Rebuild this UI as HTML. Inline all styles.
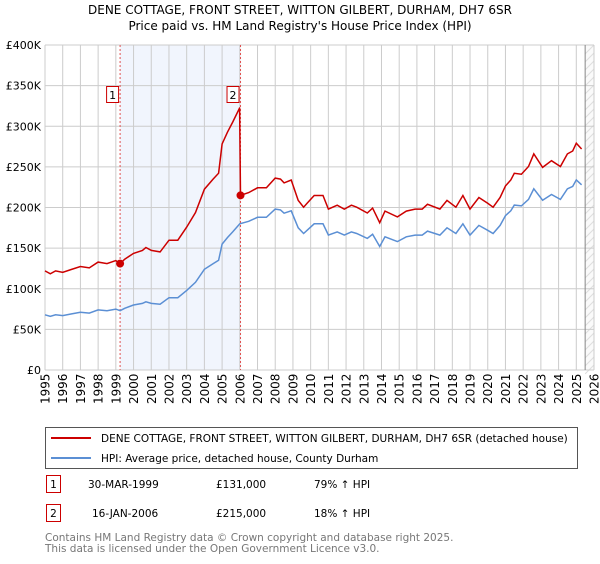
<!DOCTYPE html>
<html><head><meta charset="utf-8">
<style>
body{margin:0;background:#fff;width:600px;height:560px;overflow:hidden;font-family:"DejaVu Sans","Liberation Sans",sans-serif;}
svg text{font-family:"DejaVu Sans","Liberation Sans",sans-serif;}
</style></head><body>
<svg id="chart" width="600" height="560">
<text x="300" y="14" text-anchor="middle" font-size="12" fill="#000">DENE COTTAGE, FRONT STREET, WITTON GILBERT, DURHAM, DH7 6SR</text>
<text x="300" y="30" text-anchor="middle" font-size="12" fill="#000">Price paid vs. HM Land Registry's House Price Index (HPI)</text>
<g id="plot"></g>
<rect x="45.5" y="427.5" width="532" height="41" fill="#fff" stroke="#555"/>
<line x1="51" y1="438" x2="91" y2="438" stroke="#cc0000" stroke-width="2"/>
<text x="101" y="442" font-size="10.5">DENE COTTAGE, FRONT STREET, WITTON GILBERT, DURHAM, DH7 6SR (detached house)</text>
<line x1="51" y1="458" x2="91" y2="458" stroke="#5b8fd4" stroke-width="2"/>
<text x="101" y="462" font-size="10.5">HPI: Average price, detached house, County Durham</text>
<g>
<rect x="46.5" y="475.5" width="14" height="17" fill="#fff" stroke="#cc0000"/>
<text x="53.5" y="488" font-size="10.5" text-anchor="middle">1</text>
<text x="88" y="488" font-size="10.5">30-MAR-1999</text>
<text x="216" y="488" font-size="10.5">£131,000</text>
<text x="314" y="488" font-size="10.5">79% ↑ HPI</text></g>
<g>
<rect x="46.5" y="504.5" width="14" height="17" fill="#fff" stroke="#cc0000"/>
<text x="53.5" y="517" font-size="10.5" text-anchor="middle">2</text>
<text x="92" y="517" font-size="10.5">16-JAN-2006</text>
<text x="216" y="517" font-size="10.5">£215,000</text>
<text x="314" y="517" font-size="10.5">18% ↑ HPI</text></g>
<text x="45" y="541" font-size="10.5" fill="#777">Contains HM Land Registry data © Crown copyright and database right 2025.</text>
<text x="45" y="552" font-size="10.5" fill="#777">This data is licensed under the Open Government Licence v3.0.</text>
</svg>
<script>
const hpiYears=[1995,1995.3,1995.6,1996,1996.5,1997,1997.5,1998,1998.5,1999,1999.24,1999.5,2000,2000.5,2000.7,2001,2001.5,2002,2002.5,2003,2003.5,2004,2004.5,2004.8,2005,2005.3,2005.6,2006,2006.5,2007,2007.5,2008,2008.3,2008.5,2008.9,2009.3,2009.6,2009.8,2010.2,2010.7,2011,2011.5,2011.9,2012.3,2012.6,2013.2,2013.5,2013.9,2014.2,2014.9,2015.4,2015.9,2016.3,2016.6,2017.3,2017.7,2018.2,2018.6,2019,2019.5,2020,2020.3,2020.7,2021,2021.3,2021.5,2021.9,2022.3,2022.6,2023.1,2023.6,2024.1,2024.5,2024.8,2025,2025.3];
const hpiValues=[68,66,68,67,69,71,70,74,73,75,73,76,80,82,84,82,81,89,89,98,108,124,131,135,155,163,170,180,183,188,188,198,197,193,196,175,168,172,180,180,166,170,166,170,168,162,167,152,164,158,164,166,166,171,166,175,168,180,166,178,172,168,178,190,196,203,202,210,223,209,216,210,223,226,234,228];
const saleYears=[1999.24,2006.04];
const salePrices=[131,215];
const yTicks=[0,50,100,150,200,250,300,350,400];
const yTickLabels=['£0','£50K','£100K','£150K','£200K','£250K','£300K','£350K','£400K'];
const xTicks=[];for(let y=1995;y<=2026;y++)xTicks.push(y);

const NS='http://www.w3.org/2000/svg';
const X0=45,X1=594,Y0=370,Y1=45;
const xs=t=>X0+(t-1995)*(X1-X0)/31;
const ys=v=>Y0-v*(Y0-Y1)/400;
const plot=document.getElementById('plot');
function mk(tag,attrs,parent){const e=document.createElementNS(NS,tag);for(const k in attrs)e.setAttribute(k,attrs[k]);(parent||plot).appendChild(e);return e;}

function hpiAt(t){for(let i=0;i<hpiYears.length-1;i++){if(t>=hpiYears[i]&&t<=hpiYears[i+1]){const f=(t-hpiYears[i])/(hpiYears[i+1]-hpiYears[i]);return hpiValues[i]+f*(hpiValues[i+1]-hpiValues[i]);}}return hpiValues[hpiValues.length-1];}

const band=mk('rect',{x:xs(saleYears[0]),y:Y1,width:xs(saleYears[1])-xs(saleYears[0]),height:Y0-Y1,fill:'#eef3fc',opacity:0.8});


const hx=xs(2025.5);
const hatch=mk('rect',{x:hx,y:Y1,width:X1-hx,height:Y0-Y1,fill:'#fafafa'});


for(let yy=Y1;yy<Y0;yy+=8){mk('line',{x1:hx,y1:yy+(X1-hx),x2:X1,y2:yy,stroke:'#ddd','stroke-width':1});}
const ADV=7.6;
xTicks.forEach(t=>{const g=mk('line',{x1:xs(t),y1:Y1,x2:xs(t),y2:Y0,stroke:'#ccc','stroke-width':1});


const s=String(t);
const lb=mk('text',{'font-size':12,fill:'#000'});


for(let k=0;k<s.length;k++){const sp=mk('tspan',{x:(xs(t)+4.5).toFixed(1),y:(404-k*ADV).toFixed(1),rotate:-90},lb);sp.textContent=s[k];}
});
yTicks.forEach((v,i)=>{const g=mk('line',{x1:X0,y1:ys(v),x2:X1,y2:ys(v),stroke:'#ccc','stroke-width':1});


const lb=mk('text',{x:X0-4,y:ys(v)+4,'font-size':11,'text-anchor':'end'});lb.textContent=yTickLabels[i];

});
mk('line',{x1:hx,y1:Y1,x2:hx,y2:Y0,stroke:'#888','stroke-width':1});
saleYears.forEach((t,i)=>{const l=mk('line',{x1:xs(t),y1:Y1,x2:xs(t),y2:Y0,stroke:'#e05050','stroke-width':1,'stroke-dasharray':'2,2'});

});
let d='';hpiYears.forEach((t,i)=>{d+=(i?'L':'M')+xs(t).toFixed(1)+','+ys(hpiValues[i]).toFixed(1);});
const hl=mk('path',{d:d,fill:'none',stroke:'#5b8fd4','stroke-width':1.5});


const r0=salePrices[0]/hpiAt(saleYears[0]), r1=salePrices[1]/hpiAt(saleYears[1]);
let pts=[];
hpiYears.forEach((t,i)=>{ if(t<saleYears[1]) pts.push([t,hpiValues[i]*r0]); });
pts.push([saleYears[1]-0.05,hpiAt(saleYears[1]-0.05)*r0]);
pts.push([saleYears[1],salePrices[1]]);
hpiYears.forEach((t,i)=>{ if(t>saleYears[1]) pts.push([t,hpiValues[i]*r1]); });
d='';pts.forEach((p,i)=>{d+=(i?'L':'M')+xs(p[0]).toFixed(1)+','+ys(p[1]).toFixed(1);});
const pl=mk('path',{d:d,fill:'none',stroke:'#cc0000','stroke-width':1.5});


saleYears.forEach((t,i)=>{const c=mk('circle',{cx:xs(t),cy:ys(salePrices[i]),r:4,fill:'#cc0000'});


const b=mk('rect',{x:xs(t)-13.5,y:86.5,width:12,height:16,fill:'#fff',stroke:'#cc0000'});


const tx=mk('text',{x:xs(t)-7.5,y:99,'font-size':11,'text-anchor':'middle'});tx.textContent=i+1;

});
</script>
</body></html>
